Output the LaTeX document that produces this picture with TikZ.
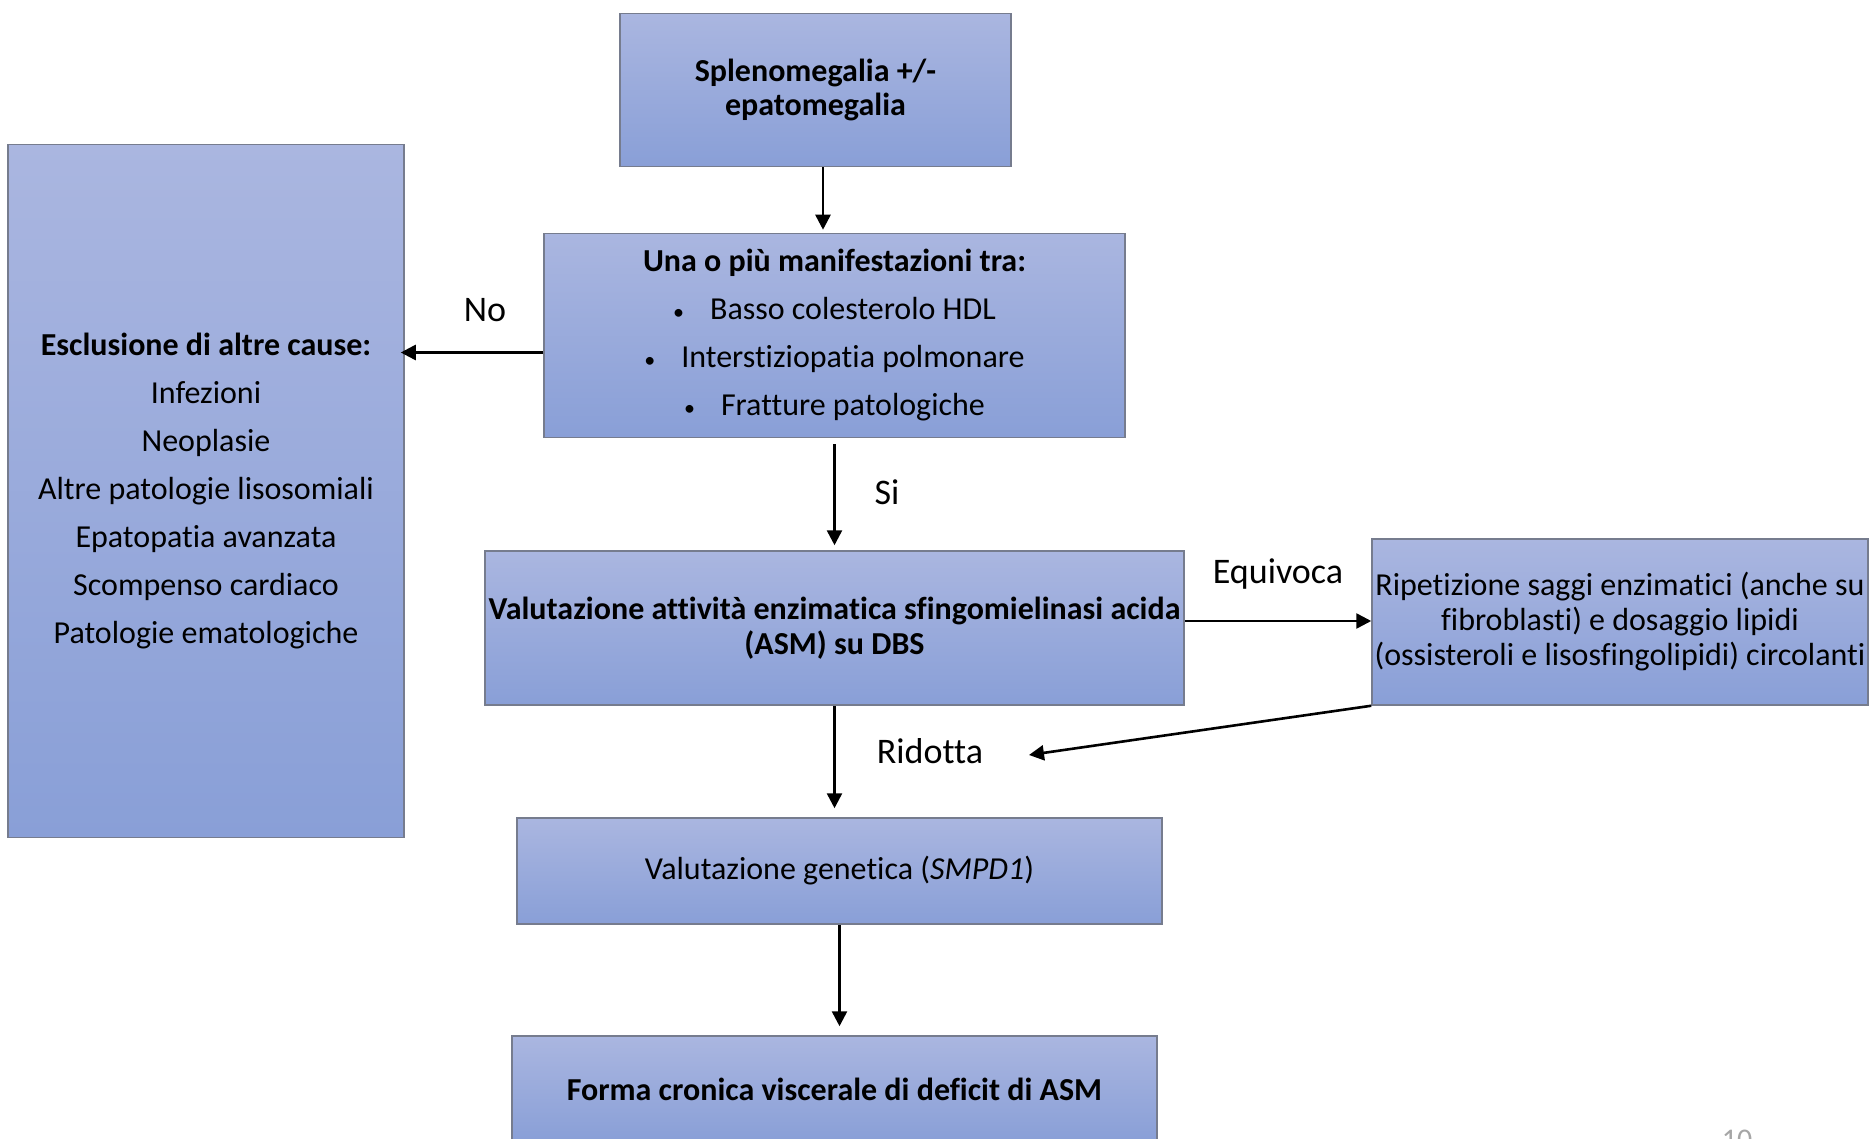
\documentclass[tikz,border=0pt]{standalone}
\usepackage{fontspec}
\setmainfont{Carlito}[Ligatures=NoCommon]
\usetikzlibrary{arrows.meta,calc}
\definecolor{boxtop}{RGB}{170,182,224}
\definecolor{boxbot}{RGB}{137,159,215}
\definecolor{boxline}{RGB}{118,124,142}
\newcommand{\smbul}{{\fontsize{22}{22}\selectfont\textbullet}\hspace{26pt}}
\begin{document}
\begin{tikzpicture}[x=1pt,y=-1pt,
  flowbox/.style={draw=boxline, line width=1.5pt, top color=boxtop, bottom color=boxbot,
    inner sep=0pt, align=center, text=black, font=\fontsize{32}{48}\selectfont},
  arr/.style={-{Triangle[length=15pt,width=15pt]}, line width=2.6pt, black},
  lbl/.style={font=\fontsize{36}{40}\selectfont, text=black, inner sep=0pt}]
\useasboundingbox (0,0) rectangle (1872,1139);

\node[flowbox, minimum width=391pt, minimum height=153pt, font=\bfseries\fontsize{32}{34}\selectfont]
  (A) at (815.5,90) {Splenomegalia +/-\\epatomegalia};

\node[flowbox, minimum width=581pt, minimum height=204pt]
  (B) at (834.5,335.5) {\textbf{Una o più manifestazioni tra:}\\
  \smbul Basso colesterolo HDL\\
  \smbul Interstiziopatia polmonare\\
  \smbul Fratture patologiche};

\node[flowbox, minimum width=396pt, minimum height=693pt]
  (C) at (206,491) {\textbf{Esclusione di altre cause:}\\
  Infezioni\\ Neoplasie\\ Altre patologie lisosomiali\\ Epatopatia avanzata\\
  Scompenso cardiaco\\ Patologie ematologiche};

\node[flowbox, minimum width=699pt, minimum height=154pt, font=\bfseries\fontsize{32}{35}\selectfont]
  (D) at (834.5,628) {Valutazione attività enzimatica sfingomielinasi acida\\(ASM) su DBS};

\node[flowbox, minimum width=496pt, minimum height=166pt, font=\fontsize{32}{35}\selectfont]
  (E) at (1620,622) {Ripetizione saggi enzimatici (anche su\\fibroblasti) e dosaggio lipidi\\(ossisteroli e lisosfingolipidi) circolanti};

\node[flowbox, minimum width=645pt, minimum height=106pt]
  (F) at (839.5,871) {Valutazione genetica (\textit{SMPD1})};

\node[flowbox, minimum width=645pt, minimum height=106pt, font=\bfseries\fontsize{32}{35}\selectfont]
  (G) at (834.5,1089) {Forma cronica viscerale di deficit di ASM};

\node[text=black!35, font=\fontsize{30}{32}\selectfont, anchor=north, inner sep=0pt] (pg) at (1737,1130) {10};

% connectors
\draw[arr, shorten >=3pt] ([xshift=7.5pt]A.south) -- ([xshift=7.5pt]A.south |- B.north);
\draw[arr, shorten >=-4pt] ([yshift=-17pt]B.west) -- ([yshift=-17pt]B.west -| C.east);
\draw[arr, shorten <=6pt, shorten >=5pt] (B.south) -- (B.south |- D.north);
\draw[arr] ([yshift=7pt]D.east) -- ([yshift=7pt]D.east -| E.west);
\draw[arr, shorten >=9pt] (D.south) -- (D.south |- F.north);
\coordinate (ret) at (1029,755);
\draw[arr] (E.south west) -- (ret);
\draw[arr, shorten >=9pt] (F.south) -- (F.south |- G.north);

% labels
\node[lbl] (lno) at (485,310) {No};
\node[lbl] (lsi) at (887,492) {Si};
\node[lbl] (leq) at (1278,574) {Equivoca};
\node[lbl] (lri) at (930,751) {Ridotta};
\end{tikzpicture}
\end{document}
